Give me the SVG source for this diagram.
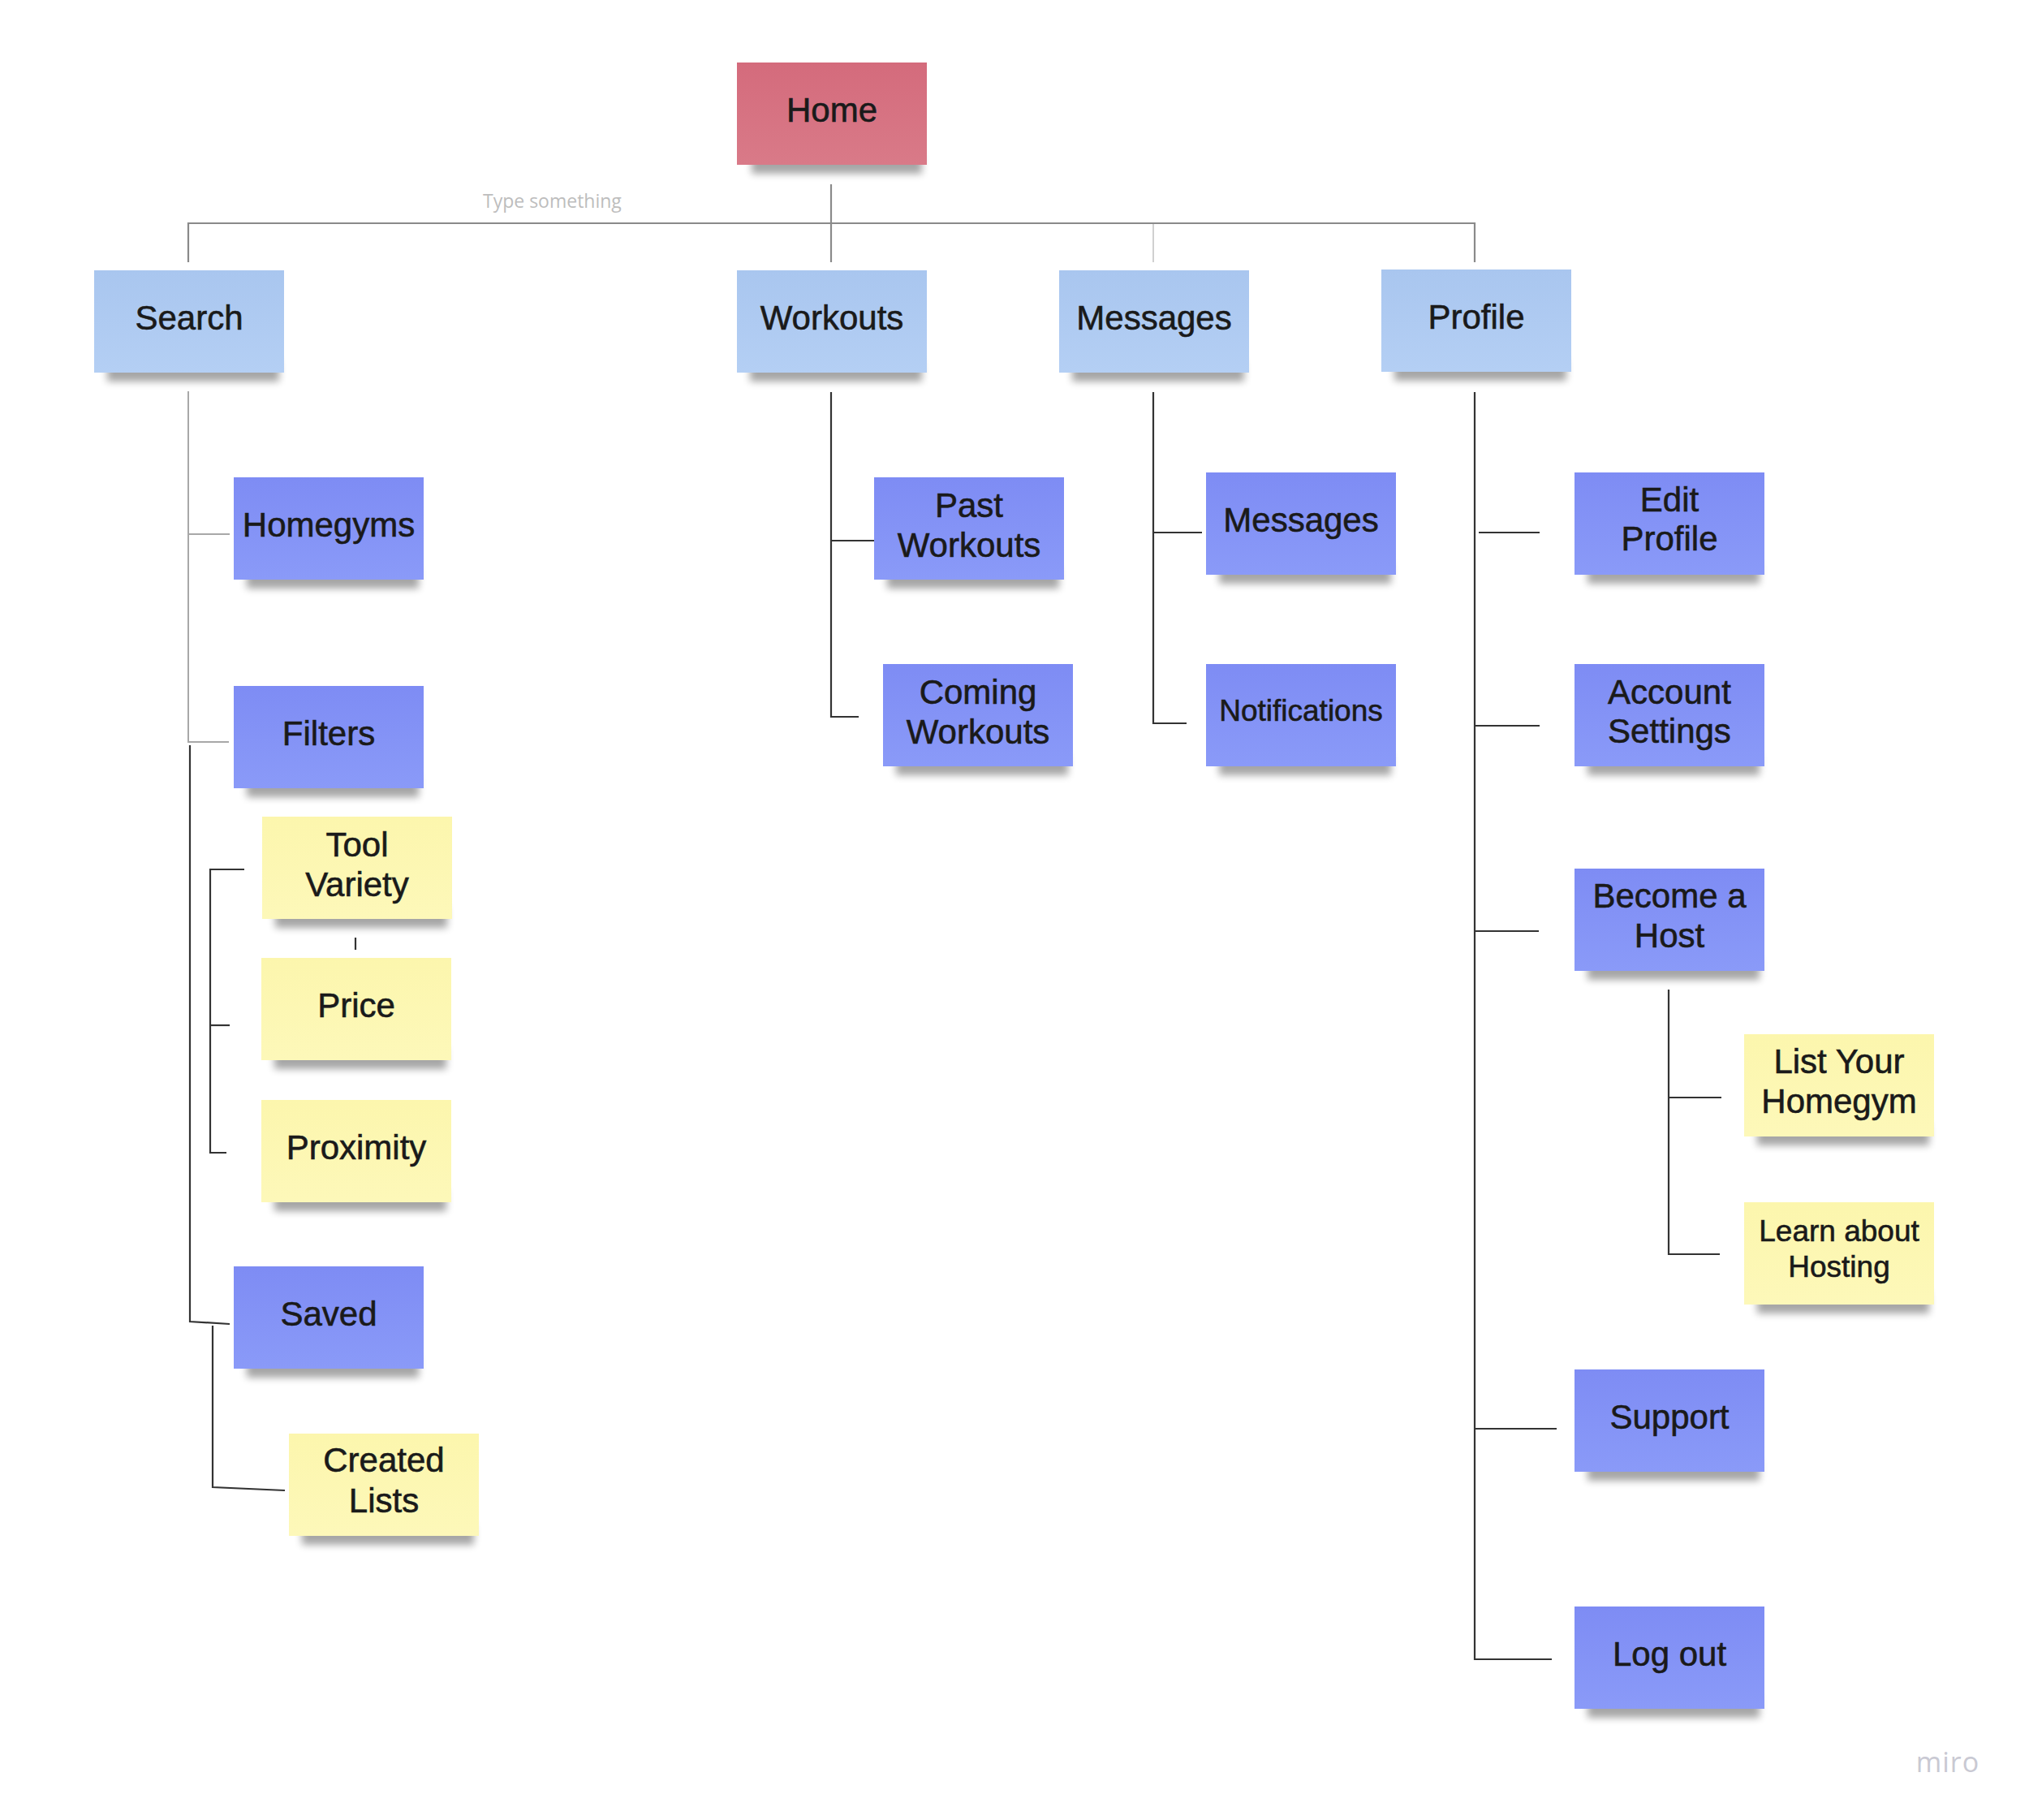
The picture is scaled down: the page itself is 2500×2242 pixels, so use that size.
<svg xmlns="http://www.w3.org/2000/svg" width="2500" height="2242" viewBox="0 0 2500 2242">
<defs>
<linearGradient id="gPink" x1="0" y1="0" x2="0" y2="1"><stop offset="0" stop-color="#d46b7c"/><stop offset="1" stop-color="#d97a88"/></linearGradient>
<linearGradient id="gLight" x1="0" y1="0" x2="0" y2="1"><stop offset="0" stop-color="#a9c6ef"/><stop offset="1" stop-color="#b4cff4"/></linearGradient>
<linearGradient id="gBlue" x1="0" y1="0" x2="0" y2="1"><stop offset="0" stop-color="#7e8cf4"/><stop offset="1" stop-color="#8a9af8"/></linearGradient>
<linearGradient id="gYellow" x1="0" y1="0" x2="0" y2="1"><stop offset="0" stop-color="#fcf6ad"/><stop offset="1" stop-color="#fdf8b9"/></linearGradient>
<filter id="sh" x="-20%" y="-100%" width="140%" height="300%"><feGaussianBlur stdDeviation="5"/></filter>
</defs>
<style>
.sh{fill:#000;opacity:0.35;filter:url(#sh)}
.pink{fill:url(#gPink)}
.light{fill:url(#gLight)}
.blue{fill:url(#gBlue)}
.yellow{fill:url(#gYellow)}
text.t{font-family:"Liberation Sans",Arial,sans-serif;font-size:42px;fill:#1a1a1a;stroke:#1a1a1a;stroke-width:0.6;text-anchor:middle}
text.s{font-size:37px}
.c{fill:none;stroke:#333;stroke-width:2.2}
.cg{fill:none;stroke:#8a8a8a;stroke-width:2.2}
.cl{fill:none;stroke:#a8a8a8;stroke-width:2}
.cvl{fill:none;stroke:#d0d0d0;stroke-width:2}
</style>
<rect width="2500" height="2242" fill="#ffffff"/>

<g id="connectors">
<path class="cg" d="M1024,227 V323"/>
<path class="cg" d="M232,323 V275 H1817 V323"/>
<path class="cvl" d="M1421,276 V323"/>
<path class="cl" d="M232,482 V914 H282"/>
<path class="cl" d="M232,658 H283"/>
<path class="c" d="M234,918 V1628 L283,1631"/>
<path class="c" d="M262,1633 V1832 L351,1836"/>
<path class="c" d="M301,1071 H259 V1420 H279"/>
<path class="c" d="M259,1263 H283"/>
<path class="c" d="M438,1155 V1170"/>
<path class="c" d="M1024,483 V883 H1058"/>
<path class="c" d="M1024,666 H1077"/>
<path class="c" d="M1421,483 V891 H1462"/>
<path class="c" d="M1421,656 H1481"/>
<path class="c" d="M1817,483 V2044 H1912"/>
<path class="c" d="M1822,656 H1897"/>
<path class="c" d="M1817,894 H1897"/>
<path class="c" d="M1817,1147 H1896"/>
<path class="c" d="M1817,1760 H1918"/>
<path class="c" d="M2119,1545 H2056 V1219"/>
<path class="c" d="M2056,1352 H2121"/>
</g>

<text x="595" y="256" font-family="'Open Sans',sans-serif" font-size="23" fill="#bdbdbd">Type something</text>

<g id="home"><rect class="sh" x="926" y="188" width="210" height="26"/><rect class="pink" x="908" y="77" width="234" height="126"/><text class="t" x="1025" y="150">Home</text></g>
<g id="search"><rect class="sh" x="132" y="444" width="212" height="26"/><rect class="light" x="116" y="333" width="234" height="126"/><text class="t" x="233" y="406">Search</text></g>
<g id="workouts"><rect class="sh" x="924" y="444" width="212" height="26"/><rect class="light" x="908" y="333" width="234" height="126"/><text class="t" x="1025" y="406">Workouts</text></g>
<g id="messages"><rect class="sh" x="1321" y="444" width="212" height="26"/><rect class="light" x="1305" y="333" width="234" height="126"/><text class="t" x="1422" y="406">Messages</text></g>
<g id="profile"><rect class="sh" x="1718" y="443" width="212" height="26"/><rect class="light" x="1702" y="332" width="234" height="126"/><text class="t" x="1819" y="405">Profile</text></g>

<g id="homegyms"><rect class="sh" x="304" y="699" width="212" height="26"/><rect class="blue" x="288" y="588" width="234" height="126"/><text class="t" x="405" y="661">Homegyms</text></g>
<g id="filters"><rect class="sh" x="304" y="956" width="212" height="26"/><rect class="blue" x="288" y="845" width="234" height="126"/><text class="t" x="405" y="918">Filters</text></g>
<g id="tool-variety"><rect class="sh" x="339" y="1117" width="212" height="26"/><rect class="yellow" x="323" y="1006" width="234" height="126"/><text class="t" x="440" y="1055">Tool</text><text class="t" x="440" y="1104">Variety</text></g>
<g id="price"><rect class="sh" x="338" y="1291" width="212" height="26"/><rect class="yellow" x="322" y="1180" width="234" height="126"/><text class="t" x="439" y="1253">Price</text></g>
<g id="proximity"><rect class="sh" x="338" y="1466" width="212" height="26"/><rect class="yellow" x="322" y="1355" width="234" height="126"/><text class="t" x="439" y="1428">Proximity</text></g>
<g id="saved"><rect class="sh" x="304" y="1671" width="212" height="26"/><rect class="blue" x="288" y="1560" width="234" height="126"/><text class="t" x="405" y="1633">Saved</text></g>
<g id="created-lists"><rect class="sh" x="372" y="1877" width="212" height="26"/><rect class="yellow" x="356" y="1766" width="234" height="126"/><text class="t" x="473" y="1813">Created</text><text class="t" x="473" y="1863">Lists</text></g>

<g id="past-workouts"><rect class="sh" x="1093" y="699" width="212" height="26"/><rect class="blue" x="1077" y="588" width="234" height="126"/><text class="t" x="1194" y="637">Past</text><text class="t" x="1194" y="686">Workouts</text></g>
<g id="coming-workouts"><rect class="sh" x="1104" y="929" width="212" height="26"/><rect class="blue" x="1088" y="818" width="234" height="126"/><text class="t" x="1205" y="867">Coming</text><text class="t" x="1205" y="916">Workouts</text></g>

<g id="messages-2"><rect class="sh" x="1502" y="693" width="212" height="26"/><rect class="blue" x="1486" y="582" width="234" height="126"/><text class="t" x="1603" y="655">Messages</text></g>
<g id="notifications"><rect class="sh" x="1502" y="929" width="212" height="26"/><rect class="blue" x="1486" y="818" width="234" height="126"/><text class="t s" x="1603" y="888">Notifications</text></g>

<g id="edit-profile"><rect class="sh" x="1956" y="693" width="212" height="26"/><rect class="blue" x="1940" y="582" width="234" height="126"/><text class="t" x="2057" y="630">Edit</text><text class="t" x="2057" y="678">Profile</text></g>
<g id="account-settings"><rect class="sh" x="1956" y="929" width="212" height="26"/><rect class="blue" x="1940" y="818" width="234" height="126"/><text class="t" x="2057" y="867">Account</text><text class="t" x="2057" y="915">Settings</text></g>
<g id="become-a-host"><rect class="sh" x="1956" y="1181" width="212" height="26"/><rect class="blue" x="1940" y="1070" width="234" height="126"/><text class="t" x="2057" y="1118">Become a</text><text class="t" x="2057" y="1167">Host</text></g>
<g id="list-your-homegym"><rect class="sh" x="2165" y="1385" width="212" height="26"/><rect class="yellow" x="2149" y="1274" width="234" height="126"/><text class="t" x="2266" y="1322">List Your</text><text class="t" x="2266" y="1371">Homegym</text></g>
<g id="learn-about-hosting"><rect class="sh" x="2165" y="1592" width="212" height="26"/><rect class="yellow" x="2149" y="1481" width="234" height="126"/><text class="t s" x="2266" y="1529">Learn about</text><text class="t s" x="2266" y="1573">Hosting</text></g>
<g id="support"><rect class="sh" x="1956" y="1798" width="212" height="26"/><rect class="blue" x="1940" y="1687" width="234" height="126"/><text class="t" x="2057" y="1760">Support</text></g>
<g id="log-out"><rect class="sh" x="1956" y="2090" width="212" height="26"/><rect class="blue" x="1940" y="1979" width="234" height="126"/><text class="t" x="2057" y="2052">Log out</text></g>

<text x="2400" y="2183" font-family="'Open Sans',sans-serif" font-size="34" fill="#c9c9d3" text-anchor="middle" letter-spacing="1">miro</text>
</svg>
